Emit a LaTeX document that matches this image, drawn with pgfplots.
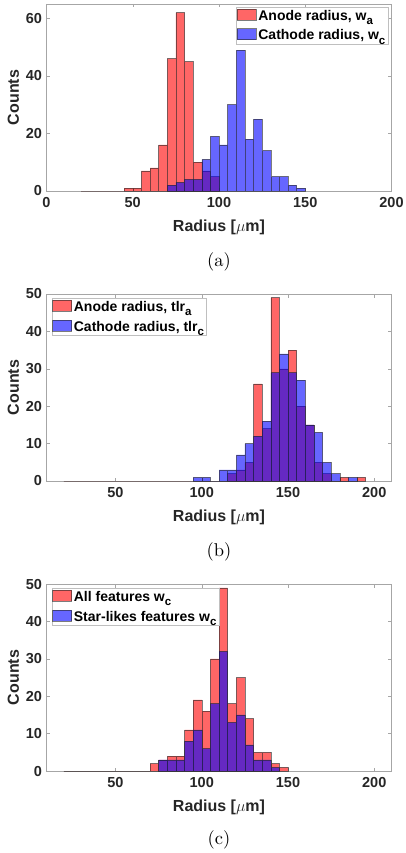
\RequirePackage{fix-cm}
\documentclass[border=0pt]{standalone}
\usepackage{fontspec}
\newfontfamily\hv{Liberation Sans}
\usepackage{pgfplots}
\pgfplotsset{compat=1.18}

\definecolor{txt}{rgb}{0.15,0.15,0.15}

\pgfplotsset{
  histax/.style={
    scale only axis, width=345pt, height=187pt,
    anchor=south west,
    axis line style={black!35},
    tick style={black!35, line width=0.5pt},
    major tick length=3.5pt,
    tick align=inside,
    /pgf/number format/assume math mode=true,
    ticklabel style={font=\hv\bfseries\fontsize{14.5}{16}\selectfont, text=txt},
    xticklabel style={yshift=-3pt},
    yticklabel style={xshift=-1pt},
    label style={font=\hv\bfseries\fontsize{16}{18}\selectfont, text=txt},
    xlabel style={yshift=-5pt},
    xlabel={Radius [$\mu$m]},
    ylabel={Counts},
    ymin=0,
    legend cell align=left,
    legend style={draw=black!25, fill=white, text=black,
      font=\hv\bfseries\fontsize{14}{16}\selectfont,
      inner xsep=0.5pt, inner ysep=1pt, row sep=4pt},
  },
  hred/.style={ybar interval, fill=red, fill opacity=0.6,
    draw=black!85, draw opacity=0.6, line width=0.5pt,
    legend image code/.code={\draw[##1] (0pt,-4pt) rectangle (19pt,7pt);}},
  hblue/.style={ybar interval, fill=blue, fill opacity=0.6,
    draw=black!85, draw opacity=0.6, line width=0.5pt,
    legend image code/.code={\draw[##1] (0pt,-4pt) rectangle (19pt,7pt);}},
}

\newcommand\subcap[1]{\scalebox{1.85}{(#1)}}
% MATLAB-style subscript: fairly large and set well below the baseline
\newcommand\sub[1]{\raisebox{-4.5pt}{\fontsize{11.5}{12}\selectfont #1}}

\begin{document}
\begin{tikzpicture}
\useasboundingbox (0,0) rectangle (405pt,-853pt);

% (a)
\begin{axis}[histax, at={(46.5pt,-191pt)},
    xmin=0, xmax=200, xtick={0,50,100,150,200},
    ymax=65, ytick={0,20,40,60},
    legend style={at={(0.99,0.984)}, anchor=north east}]
  \addplot[hred] coordinates {
    (20,0) (25,0) (30,0) (35,0) (40,0) (45,1) (50,1) (55,7) (60,8) (65,16)
    (70,46) (75,62) (80,45) (85,10) (90,7) (95,5) (100,0)};
  \addplot[hblue] coordinates {
    (70,2) (75,3) (80,4) (85,4) (90,11) (95,19) (100,16) (105,30) (110,49)
    (115,18) (120,25) (125,14) (130,5) (135,5) (140,2) (145,1) (150,0)};
  \legend{{Anode radius, w\sub{a}}, {Cathode radius, w\sub{c}}}
\end{axis}
\node at (219pt,-262pt) {\subcap{a}};

% (b)
\begin{axis}[histax, at={(46.5pt,-481pt)},
    xmin=10, xmax=210, xtick={50,100,150,200},
    ymax=50, ytick={0,10,20,30,40,50},
    legend style={at={(0.015,0.978)}, anchor=north west}]
  \addplot[hred] coordinates {
    (20,0) (25,0) (30,0) (35,0) (40,0) (45,0) (50,0) (55,0) (60,0) (65,0)
    (70,0) (75,0) (80,0) (85,0) (90,0) (95,0) (100,0) (105,0) (110,0)
    (115,2) (120,3) (125,5) (130,26) (135,14) (140,49) (145,30) (150,35)
    (155,20) (160,15) (165,5) (170,2) (175,0) (180,1) (185,0) (190,1) (195,0)};
  \addplot[hblue] coordinates {
    (95,1) (100,1) (105,0) (110,3) (115,3) (120,7) (125,10) (130,12)
    (135,16) (140,29) (145,34) (150,29) (155,27) (160,15) (165,13)
    (170,5) (175,2) (180,0) (185,1) (190,0)};
  \legend{{Anode radius, tlr\sub{a}}, {Cathode radius, tlr\sub{c}}}
\end{axis}
\node at (219pt,-552pt) {\subcap{b}};

% (c)
\begin{axis}[histax, at={(46.5pt,-771pt)},
    xmin=10, xmax=210, xtick={50,100,150,200},
    ymax=50, ytick={0,10,20,30,40,50},
    legend style={at={(0.015,0.978)}, anchor=north west}]
  \addplot[hred] coordinates {
    (20,0) (25,0) (30,0) (35,0) (40,0) (45,0) (50,0) (55,0) (60,0) (65,0)
    (70,2) (75,3) (80,4) (85,4) (90,11) (95,19) (100,16) (105,30) (110,49)
    (115,18) (120,25) (125,14) (130,5) (135,5) (140,2) (145,1) (150,0)};
  \addplot[hblue] coordinates {
    (75,3) (80,3) (85,3) (90,8) (95,11) (100,6) (105,18) (110,32)
    (115,13) (120,15) (125,7) (130,3) (135,3) (140,1) (145,0)};
  \legend{{All features w\sub{c}}, {Star-likes features w\sub{c}}}
\end{axis}
\node at (219pt,-840pt) {\subcap{c}};
\end{tikzpicture}
\end{document}
